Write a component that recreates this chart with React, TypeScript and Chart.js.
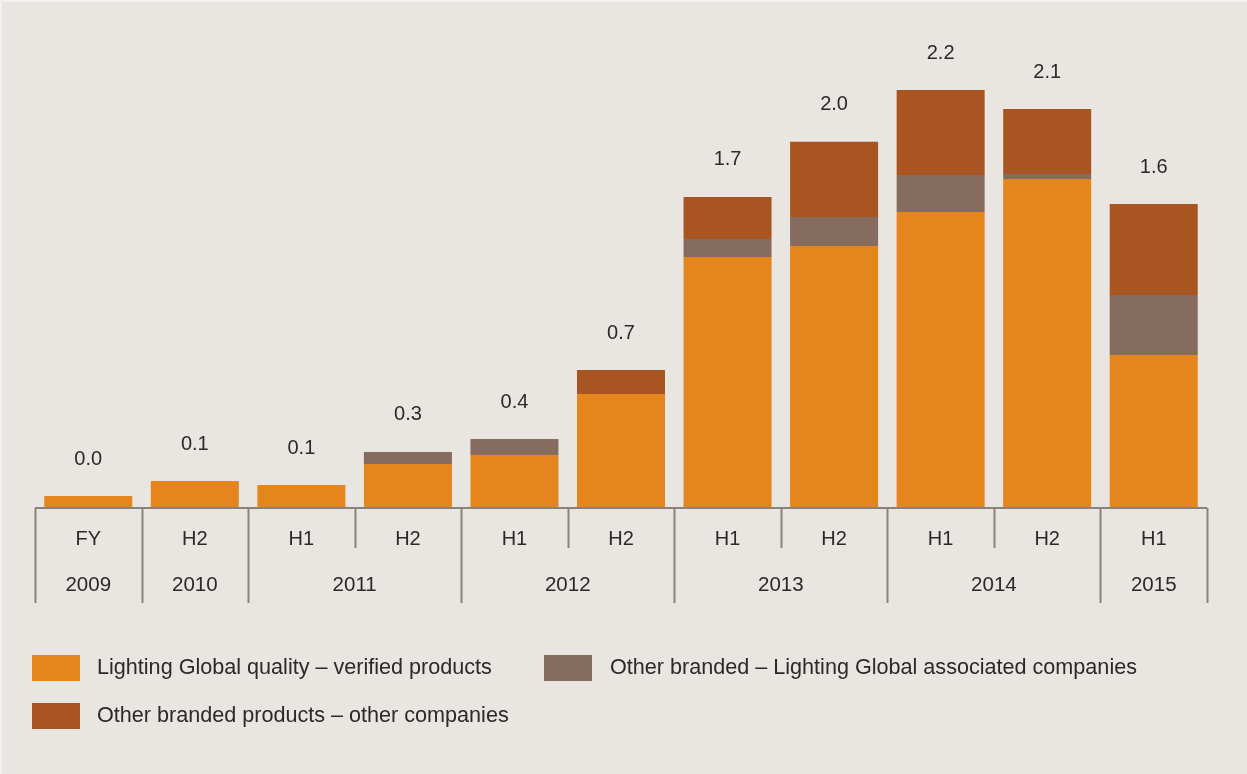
import React, { useEffect, useRef } from "react";
import { Chart, registerables } from "chart.js";

Chart.register(...registerables);

const periods = ["FY", "H2", "H1", "H2", "H1", "H2", "H1", "H2", "H1", "H2", "H1"];
const years = ["2009", "2010", "2011", "2011", "2012", "2012", "2013", "2013", "2014", "2014", "2015"];
const totalLabels = ["0.0", "0.1", "0.1", "0.3", "0.4", "0.7", "1.7", "2.0", "2.2", "2.1", "1.6"];

const verified = [0.063, 0.142, 0.121, 0.232, 0.279, 0.6, 1.321, 1.379, 1.558, 1.732, 0.805];
const associated = [0, 0, 0, 0.063, 0.084, 0, 0.095, 0.153, 0.195, 0.026, 0.316];
const otherCompanies = [0, 0, 0, 0, 0, 0.126, 0.221, 0.395, 0.447, 0.342, 0.479];

const seriesNames = [
  "Lighting Global quality – verified products",
  "Other branded – Lighting Global associated companies",
  "Other branded products – other companies",
];
const colors = ["#e5861c", "#866c5e", "#a95522"];

const FONT = '"Liberation Sans", Arial, sans-serif';
const TEXT = "#2b2a29";
const LINE = "#8c827d";
const BG = "#e9e5e1";

const decorPlugin = {
  id: "decor",
  beforeDraw(chart: any) {
    const { ctx, width, height } = chart;
    ctx.save();
    ctx.fillStyle = "#f3f1ef";
    ctx.fillRect(0, 0, width, height);
    ctx.fillStyle = BG;
    ctx.fillRect(2, 2, width - 2, height - 2);
    ctx.restore();
  },
  afterDraw(chart: any) {
    const { ctx, chartArea, scales } = chart;
    const x = scales.x;
    const y = scales.y;
    const n = periods.length;
    const base = y.getPixelForValue(0);
    ctx.save();
    // totals
    ctx.fillStyle = TEXT;
    ctx.font = `20px ${FONT}`;
    ctx.textAlign = "center";
    ctx.textBaseline = "middle";
    for (let i = 0; i < n; i++) {
      const tot = verified[i] + associated[i] + otherCompanies[i];
      const top = y.getPixelForValue(tot);
      ctx.fillText(totalLabels[i], x.getPixelForValue(i), top - 37);
    }
    // axis line
    ctx.strokeStyle = LINE;
    ctx.lineWidth = 2;
    ctx.beginPath();
    ctx.moveTo(chartArea.left, base);
    ctx.lineTo(chartArea.right, base);
    ctx.stroke();
    // boundaries
    const edge = (i: number) => {
      if (i === 0) return chartArea.left;
      if (i === n) return chartArea.right;
      return (x.getPixelForValue(i - 1) + x.getPixelForValue(i)) / 2;
    };
    for (let i = 0; i <= n; i++) {
      const long = i === 0 || i === n || years[i] !== years[i - 1];
      const px = Math.round(edge(i)) + 0.5;
      ctx.beginPath();
      ctx.moveTo(px, base);
      ctx.lineTo(px, long ? base + 95 : base + 40);
      ctx.stroke();
    }
    // period labels
    ctx.fillStyle = TEXT;
    for (let i = 0; i < n; i++) {
      ctx.fillText(periods[i], x.getPixelForValue(i), base + 31);
    }
    // year labels
    ctx.font = `20.5px ${FONT}`;
    let s = 0;
    while (s < n) {
      let e = s;
      while (e + 1 < n && years[e + 1] === years[s]) e++;
      const cx = (edge(s) + edge(e + 1)) / 2;
      ctx.fillText(years[s], cx, base + 77);
      s = e + 1;
    }
    // legend
    const items = [
      { bx: 32, by: 655, tx: 97, idx: 0 },
      { bx: 544, by: 655, tx: 610, idx: 1 },
      { bx: 32, by: 703, tx: 97, idx: 2 },
    ];
    ctx.textAlign = "left";
    ctx.font = `21.6px ${FONT}`;
    items.forEach((it) => {
      ctx.fillStyle = colors[it.idx];
      ctx.fillRect(it.bx, it.by, 48, 26);
      ctx.fillStyle = TEXT;
      ctx.fillText(chart.data.datasets[it.idx].label, it.tx, it.by + 13);
    });
    ctx.restore();
  },
};

export default function App() {
  const ref = useRef<HTMLCanvasElement>(null);
  useEffect(() => {
    document.body.style.margin = "0";
    const chart = new Chart(ref.current!, {
      type: "bar",
      data: {
        labels: periods,
        datasets: [
          { label: seriesNames[0], data: verified, backgroundColor: colors[0] },
          { label: seriesNames[1], data: associated, backgroundColor: colors[1] },
          { label: seriesNames[2], data: otherCompanies, backgroundColor: colors[2] },
        ].map((d) => ({ ...d, barPercentage: 0.826, categoryPercentage: 1, borderWidth: 0 })),
      },
      options: {
        animation: false,
        responsive: false,
        devicePixelRatio: 1,
        layout: { padding: { left: 35, right: 40, top: 33, bottom: 266 } },
        plugins: { legend: { display: false }, tooltip: { enabled: false } },
        scales: {
          x: { display: false, stacked: true, offset: true },
          y: { display: false, stacked: true, min: 0, max: 2.5 },
        },
      },
      plugins: [decorPlugin],
    });
    return () => chart.destroy();
  }, []);
  return (
    <div style={{ width: 1247, height: 774, background: BG }}>
      <canvas ref={ref} width={1247} height={774} style={{ display: "block" }} />
    </div>
  );
}
